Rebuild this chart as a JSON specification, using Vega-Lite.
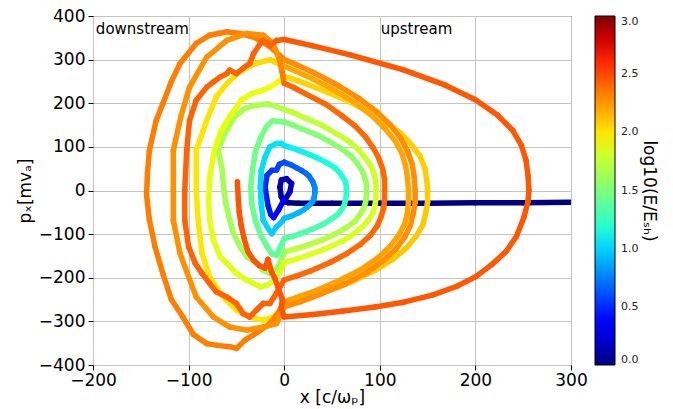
{
"$schema":"https://vega.github.io/schema/vega-lite/v6.json",
"width":478,"height":349,
"autosize":{"type":"none"},
"padding":{"left":93,"top":16,"right":102,"bottom":44},
"config":{"font":"DejaVu Sans","view":{"stroke":"black","strokeWidth":1}},
"datasets":{
"labels":[{"label":"downstream","x":-197,"p":371},{"label":"upstream","x":101,"p":371}],
"traj":[
{"x":300,"p":-27,"e":0},{"x":250,"p":-28,"e":0},{"x":200,"p":-28,"e":0},{"x":150,"p":-29,"e":0},{"x":100,"p":-29,"e":0},{"x":50,"p":-29,"e":0},{"x":15,"p":-29,"e":0},{"x":4,"p":-28,"e":0},{"x":1,"p":-26,"e":0.04},
{"x":-3,"p":-15,"e":0.08},{"x":-4.5,"p":8,"e":0.1},{"x":-3,"p":24,"e":0.12},{"x":2.5,"p":27,"e":0.14},{"x":7.7,"p":16,"e":0.16},{"x":6,"p":-3,"e":0.18},{"x":1.8,"p":-18,"e":0.22},
{"x":-1,"p":-24,"e":0.3},{"x":-6,"p":-45,"e":0.35},{"x":-11,"p":-62,"e":0.4},{"x":-14,"p":-55,"e":0.43},{"x":-17,"p":-34,"e":0.46},{"x":-20,"p":8,"e":0.5},{"x":-18,"p":35,"e":0.53},{"x":-13,"p":46,"e":0.55},{"x":-8,"p":47,"e":0.57},{"x":-5,"p":60,"e":0.58},{"x":0,"p":65,"e":0.6},
{"x":3,"p":62,"e":0.62},{"x":7,"p":59,"e":0.64},{"x":13,"p":52,"e":0.65},{"x":18,"p":46,"e":0.67},{"x":23,"p":39,"e":0.69},{"x":26,"p":33,"e":0.7},{"x":28,"p":26,"e":0.72},{"x":30,"p":20,"e":0.73},{"x":31,"p":13,"e":0.75},{"x":32,"p":7,"e":0.77},{"x":32,"p":0,"e":0.78},{"x":32,"p":-6,"e":0.8},{"x":31.6,"p":-13,"e":0.81},{"x":31,"p":-19,"e":0.83},{"x":29.5,"p":-26,"e":0.84},{"x":27,"p":-32,"e":0.86},{"x":24,"p":-38,"e":0.88},{"x":20,"p":-45,"e":0.9},{"x":15,"p":-51,"e":0.91},{"x":8,"p":-58,"e":0.93},{"x":4,"p":-61,"e":0.94},{"x":0,"p":-64,"e":0.95},
{"x":-4,"p":-75,"e":0.97},{"x":-8,"p":-83,"e":0.98},{"x":-13,"p":-99,"e":0.99},{"x":-18,"p":-83,"e":1.0},{"x":-22,"p":-68,"e":1.0},{"x":-24,"p":-30,"e":1.01},{"x":-25,"p":8,"e":1.02},{"x":-24,"p":46,"e":1.03},{"x":-20,"p":77,"e":1.03},{"x":-15,"p":100,"e":1.04},{"x":-8,"p":108,"e":1.05},{"x":-3,"p":108,"e":1.05},{"x":0,"p":103,"e":1.06},
{"x":6,"p":99,"e":1.08},{"x":14,"p":93,"e":1.09},{"x":27,"p":82,"e":1.1},{"x":37,"p":72,"e":1.12},{"x":46,"p":62,"e":1.13},{"x":53,"p":52,"e":1.14},{"x":58,"p":41,"e":1.16},{"x":61,"p":31,"e":1.17},{"x":64,"p":21,"e":1.19},{"x":65,"p":10,"e":1.2},{"x":65,"p":0,"e":1.21},{"x":65,"p":-11,"e":1.23},{"x":64,"p":-22,"e":1.24},{"x":63,"p":-33,"e":1.26},{"x":60,"p":-44,"e":1.27},{"x":56,"p":-55,"e":1.28},{"x":49,"p":-66,"e":1.3},{"x":41,"p":-77,"e":1.31},{"x":30,"p":-88,"e":1.33},{"x":17,"p":-99,"e":1.34},{"x":9,"p":-105,"e":1.35},{"x":0,"p":-110,"e":1.36},
{"x":-4,"p":-130,"e":1.38},{"x":-8,"p":-148,"e":1.39},{"x":-13,"p":-145,"e":1.4},{"x":-18,"p":-128,"e":1.41},{"x":-24,"p":-105,"e":1.42},{"x":-30,"p":-70,"e":1.43},{"x":-34,"p":-30,"e":1.44},{"x":-35,"p":10,"e":1.45},{"x":-33,"p":50,"e":1.45},{"x":-30,"p":90,"e":1.46},{"x":-24,"p":125,"e":1.47},{"x":-18,"p":148,"e":1.47},{"x":-12,"p":160,"e":1.48},{"x":-5,"p":158,"e":1.49},{"x":0,"p":157,"e":1.5},
{"x":8,"p":151,"e":1.51},{"x":19,"p":141,"e":1.52},{"x":36,"p":126,"e":1.54},{"x":49,"p":110,"e":1.55},{"x":61,"p":94,"e":1.56},{"x":70,"p":79,"e":1.57},{"x":76,"p":63,"e":1.58},{"x":81,"p":47,"e":1.6},{"x":84,"p":31,"e":1.61},{"x":86,"p":16,"e":1.62},{"x":86,"p":0,"e":1.63},{"x":86,"p":-14,"e":1.64},{"x":85,"p":-28,"e":1.65},{"x":83,"p":-42,"e":1.67},{"x":79,"p":-56,"e":1.68},{"x":74,"p":-71,"e":1.69},{"x":65,"p":-85,"e":1.7},{"x":54,"p":-99,"e":1.71},{"x":40,"p":-113,"e":1.72},{"x":22,"p":-127,"e":1.73},{"x":12,"p":-134,"e":1.74},{"x":0,"p":-141,"e":1.6},
{"x":-4,"p":-165,"e":1.6},{"x":-8,"p":-180,"e":1.61},{"x":-15,"p":-190,"e":1.61},{"x":-22,"p":-183,"e":1.62},{"x":-29,"p":-167,"e":1.62},{"x":-39,"p":-152,"e":1.63},{"x":-46,"p":-129,"e":1.63},{"x":-53,"p":-99,"e":1.64},{"x":-57,"p":-68,"e":1.64},{"x":-61,"p":-30,"e":1.65},{"x":-63,"p":0,"e":1.65},{"x":-65,"p":50,"e":1.66},{"x":-69,"p":92,"e":1.66},{"x":-62,"p":131,"e":1.67},{"x":-52,"p":169,"e":1.67},{"x":-41,"p":188,"e":1.68},{"x":-31,"p":195,"e":1.68},{"x":-17,"p":199,"e":1.69},{"x":-8,"p":192,"e":1.7},{"x":0,"p":186,"e":1.75},
{"x":9,"p":179,"e":1.76},{"x":21,"p":167,"e":1.76},{"x":40,"p":149,"e":1.77},{"x":55,"p":130,"e":1.78},{"x":68,"p":112,"e":1.78},{"x":78,"p":93,"e":1.79},{"x":85,"p":74,"e":1.8},{"x":91,"p":56,"e":1.8},{"x":94,"p":37,"e":1.81},{"x":96,"p":19,"e":1.81},{"x":96,"p":0,"e":1.82},{"x":96,"p":-17,"e":1.82},{"x":95,"p":-33,"e":1.83},{"x":93,"p":-50,"e":1.83},{"x":89,"p":-66,"e":1.84},{"x":82,"p":-83,"e":1.84},{"x":73,"p":-99,"e":1.85},{"x":61,"p":-116,"e":1.85},{"x":45,"p":-132,"e":1.86},{"x":24,"p":-149,"e":1.86},{"x":13,"p":-157,"e":1.87},{"x":0,"p":-165,"e":1.85},
{"x":-5,"p":-190,"e":1.85},{"x":-10,"p":-205,"e":1.85},{"x":-18,"p":-217,"e":1.86},{"x":-25,"p":-221,"e":1.86},{"x":-32,"p":-213,"e":1.86},{"x":-39,"p":-206,"e":1.87},{"x":-50,"p":-190,"e":1.87},{"x":-60,"p":-167,"e":1.87},{"x":-67,"p":-152,"e":1.88},{"x":-74,"p":-114,"e":1.88},{"x":-78,"p":-68,"e":1.88},{"x":-79,"p":-20,"e":1.89},{"x":-78,"p":30,"e":1.89},{"x":-73,"p":92,"e":1.89},{"x":-66,"p":138,"e":1.9},{"x":-55,"p":176,"e":1.9},{"x":-45,"p":207,"e":1.9},{"x":-34,"p":222,"e":1.91},{"x":-22,"p":230,"e":1.91},{"x":-14,"p":238,"e":1.92},{"x":-6,"p":250,"e":1.95},{"x":0,"p":262,"e":2.05},
{"x":14,"p":252,"e":2.06},{"x":33,"p":236,"e":2.06},{"x":62,"p":210,"e":2.06},{"x":86,"p":183,"e":2.07},{"x":106,"p":157,"e":2.07},{"x":122,"p":131,"e":2.07},{"x":133,"p":105,"e":2.08},{"x":142,"p":79,"e":2.08},{"x":147,"p":52,"e":2.08},{"x":149,"p":26,"e":2.08},{"x":150,"p":0,"e":2.08},{"x":150,"p":-26,"e":2.09},{"x":148,"p":-52,"e":2.09},{"x":145,"p":-79,"e":2.09},{"x":138,"p":-105,"e":2.09},{"x":128,"p":-131,"e":2.1},{"x":114,"p":-157,"e":2.1},{"x":95,"p":-183,"e":2.1},{"x":70,"p":-210,"e":2.1},{"x":38,"p":-236,"e":2.1},{"x":20,"p":-249,"e":2.1},{"x":0,"p":-262,"e":2.0},
{"x":-11,"p":-290,"e":2.0},{"x":-22,"p":-297,"e":2.0},{"x":-36,"p":-290,"e":2.0},{"x":-50,"p":-274,"e":2.0},{"x":-64,"p":-244,"e":2.0},{"x":-78,"p":-198,"e":2.0},{"x":-86,"p":-144,"e":2.0},{"x":-90,"p":-68,"e":2.0},{"x":-92,"p":0,"e":2.0},{"x":-92,"p":92,"e":2.0},{"x":-81,"p":161,"e":2.01},{"x":-71,"p":215,"e":2.01},{"x":-60,"p":245,"e":2.02},{"x":-48,"p":270,"e":2.02},{"x":-32,"p":290,"e":2.03},{"x":-15,"p":300,"e":2.05},{"x":0,"p":285,"e":2.2},
{"x":12,"p":274,"e":2.2},{"x":29,"p":257,"e":2.2},{"x":54,"p":228,"e":2.2},{"x":75,"p":200,"e":2.2},{"x":92,"p":171,"e":2.2},{"x":105,"p":143,"e":2.2},{"x":116,"p":114,"e":2.2},{"x":123,"p":86,"e":2.21},{"x":127,"p":57,"e":2.21},{"x":129,"p":29,"e":2.21},{"x":130,"p":0,"e":2.21},{"x":130,"p":-26,"e":2.21},{"x":129,"p":-51,"e":2.21},{"x":126,"p":-77,"e":2.21},{"x":120,"p":-102,"e":2.21},{"x":111,"p":-128,"e":2.22},{"x":99,"p":-153,"e":2.22},{"x":82,"p":-179,"e":2.22},{"x":60,"p":-204,"e":2.22},{"x":33,"p":-230,"e":2.22},{"x":17,"p":-242,"e":2.22},{"x":0,"p":-255,"e":2.33},
{"x":-6,"p":-280,"e":2.33},{"x":-15,"p":-305,"e":2.33},{"x":-28,"p":-325,"e":2.33},{"x":-41,"p":-343,"e":2.33},{"x":-50,"p":-362,"e":2.33},{"x":-57,"p":-358,"e":2.33},{"x":-70,"p":-355,"e":2.33},{"x":-81,"p":-351,"e":2.33},{"x":-95,"p":-330,"e":2.33},{"x":-106,"p":-290,"e":2.33},{"x":-118,"p":-250,"e":2.33},{"x":-127,"p":-190,"e":2.33},{"x":-135,"p":-130,"e":2.33},{"x":-141,"p":-68,"e":2.33},{"x":-144,"p":-10,"e":2.33},{"x":-143,"p":40,"e":2.33},{"x":-141,"p":92,"e":2.33},{"x":-134,"p":160,"e":2.33},{"x":-127,"p":199,"e":2.33},{"x":-118,"p":250,"e":2.33},{"x":-109,"p":291,"e":2.33},{"x":-92,"p":337,"e":2.33},{"x":-78,"p":356,"e":2.33},{"x":-60,"p":364,"e":2.33},{"x":-46,"p":360,"e":2.33},{"x":-30,"p":350,"e":2.33},{"x":-15,"p":330,"e":2.33},{"x":-5,"p":310,"e":2.33},{"x":0,"p":300,"e":2.28},
{"x":13,"p":288,"e":2.28},{"x":31,"p":270,"e":2.28},{"x":57,"p":240,"e":2.28},{"x":79,"p":210,"e":2.28},{"x":97,"p":180,"e":2.28},{"x":111,"p":150,"e":2.28},{"x":122,"p":120,"e":2.28},{"x":129,"p":90,"e":2.28},{"x":134,"p":60,"e":2.28},{"x":136,"p":30,"e":2.28},{"x":137,"p":0,"e":2.28},{"x":137,"p":-27,"e":2.28},{"x":135,"p":-53,"e":2.28},{"x":132,"p":-80,"e":2.28},{"x":126,"p":-107,"e":2.28},{"x":117,"p":-134,"e":2.28},{"x":104,"p":-160,"e":2.28},{"x":87,"p":-187,"e":2.28},{"x":64,"p":-214,"e":2.28},{"x":35,"p":-240,"e":2.28},{"x":18,"p":-254,"e":2.28},{"x":0,"p":-267,"e":2.27},
{"x":-8,"p":-305,"e":2.27},{"x":-22,"p":-313,"e":2.27},{"x":-39,"p":-320,"e":2.27},{"x":-57,"p":-313,"e":2.27},{"x":-74,"p":-290,"e":2.27},{"x":-92,"p":-244,"e":2.27},{"x":-100,"p":-198,"e":2.27},{"x":-109,"p":-144,"e":2.27},{"x":-116,"p":-68,"e":2.27},{"x":-116,"p":0,"e":2.27},{"x":-116,"p":92,"e":2.27},{"x":-108,"p":170,"e":2.27},{"x":-99,"p":237,"e":2.27},{"x":-81,"p":306,"e":2.27},{"x":-60,"p":344,"e":2.27},{"x":-39,"p":360,"e":2.27},{"x":-22,"p":356,"e":2.27},{"x":-12,"p":338,"e":2.27},{"x":-5,"p":300,"e":2.3},{"x":-2,"p":270,"e":2.35},{"x":0,"p":246,"e":2.4},
{"x":10,"p":236,"e":2.4},{"x":23,"p":221,"e":2.4},{"x":44,"p":197,"e":2.4},{"x":60,"p":172,"e":2.4},{"x":74,"p":148,"e":2.4},{"x":85,"p":123,"e":2.4},{"x":93,"p":98,"e":2.4},{"x":99,"p":74,"e":2.4},{"x":103,"p":49,"e":2.4},{"x":105,"p":25,"e":2.4},{"x":105,"p":0,"e":2.4},{"x":105,"p":-21,"e":2.4},{"x":104,"p":-41,"e":2.4},{"x":101,"p":-62,"e":2.4},{"x":97,"p":-82,"e":2.4},{"x":90,"p":-103,"e":2.4},{"x":80,"p":-123,"e":2.4},{"x":66,"p":-144,"e":2.4},{"x":49,"p":-164,"e":2.4},{"x":27,"p":-185,"e":2.4},{"x":14,"p":-195,"e":2.4},{"x":0,"p":-205,"e":2.42},
{"x":-8,"p":-235,"e":2.42},{"x":-15,"p":-259,"e":2.42},{"x":-22,"p":-259,"e":2.42},{"x":-29,"p":-274,"e":2.42},{"x":-36,"p":-290,"e":2.42},{"x":-43,"p":-282,"e":2.42},{"x":-50,"p":-259,"e":2.42},{"x":-60,"p":-244,"e":2.42},{"x":-71,"p":-232,"e":2.42},{"x":-78,"p":-213,"e":2.42},{"x":-86,"p":-190,"e":2.42},{"x":-93,"p":-167,"e":2.42},{"x":-100,"p":-129,"e":2.42},{"x":-104,"p":-68,"e":2.42},{"x":-104,"p":0,"e":2.42},{"x":-102,"p":92,"e":2.42},{"x":-99,"p":161,"e":2.42},{"x":-92,"p":207,"e":2.42},{"x":-81,"p":237,"e":2.42},{"x":-74,"p":249,"e":2.42},{"x":-67,"p":260,"e":2.42},{"x":-60,"p":268,"e":2.42},{"x":-57,"p":276,"e":2.42},{"x":-50,"p":268,"e":2.42},{"x":-43,"p":280,"e":2.42},{"x":-36,"p":291,"e":2.42},{"x":-32,"p":314,"e":2.42},{"x":-25,"p":337,"e":2.42},{"x":-22,"p":344,"e":2.42},{"x":-15,"p":333,"e":2.42},{"x":-8,"p":344,"e":2.43},{"x":0,"p":346,"e":2.45},
{"x":29,"p":332,"e":2.45},{"x":69,"p":311,"e":2.45},{"x":124,"p":277,"e":2.45},{"x":168,"p":242,"e":2.45},{"x":200,"p":208,"e":2.45},{"x":223,"p":173,"e":2.45},{"x":239,"p":138,"e":2.45},{"x":248,"p":104,"e":2.45},{"x":253,"p":69,"e":2.45},{"x":255,"p":35,"e":2.45},{"x":256,"p":0,"e":2.45},{"x":255,"p":-25,"e":2.45},{"x":251,"p":-60,"e":2.45},{"x":243,"p":-105,"e":2.45},{"x":232,"p":-140,"e":2.45},{"x":217,"p":-170,"e":2.45},{"x":200,"p":-198,"e":2.45},{"x":180,"p":-220,"e":2.45},{"x":155,"p":-240,"e":2.45},{"x":125,"p":-256,"e":2.45},{"x":95,"p":-267,"e":2.45},{"x":60,"p":-277,"e":2.45},{"x":30,"p":-284,"e":2.45},{"x":0,"p":-290,"e":2.46},
{"x":-3,"p":-270,"e":2.46},{"x":-2,"p":-250,"e":2.46},{"x":-6,"p":-225,"e":2.46},{"x":-10,"p":-200,"e":2.46},{"x":-13,"p":-188,"e":2.46},{"x":-17,"p":-158,"e":2.46},{"x":-20,"p":-178,"e":2.46},{"x":-26,"p":-172,"e":2.46},{"x":-32,"p":-160,"e":2.46},{"x":-38,"p":-140,"e":2.46},{"x":-42,"p":-110,"e":2.46},{"x":-45,"p":-80,"e":2.46},{"x":-47,"p":-50,"e":2.46},{"x":-48,"p":-20,"e":2.46},{"x":-49,"p":20,"e":2.46}
]},
"layer":[
{"data":{"name":"traj"},
 "transform":[{"window":[{"op":"lead","field":"x","as":"x2"},{"op":"lead","field":"p","as":"p2"}]},{"filter":"datum.x2 != null"}],
 "mark":{"type":"rule","strokeWidth":5.5,"strokeCap":"round","clip":true},
 "encoding":{
  "x":{"field":"x","type":"quantitative","scale":{"domain":[-200,300],"nice":false,"zero":false},
   "axis":{"values":[-200,-100,0,100,200,300],"title":"x [c/ωₚ]","labelFontSize":17,"titleFontSize":17,"titleFontWeight":"normal","labelColor":"black","titleColor":"black","tickColor":"black","tickSize":5,"labelPadding":2,"titlePadding":1,"domain":false,"grid":true,"gridColor":"#c4c4c4","labelFlush":false}},
  "y":{"field":"p","type":"quantitative","scale":{"domain":[-400,400],"nice":false},
   "axis":{"values":[-400,-300,-200,-100,0,100,200,300,400],"title":"pₓ[mvₐ]","labelFontSize":17,"titleFontSize":17,"titleFontWeight":"normal","labelColor":"black","titleColor":"black","tickColor":"black","tickSize":5,"labelPadding":3,"titlePadding":4,"domain":false,"grid":true,"gridColor":"#c4c4c4","labelFlush":false}},
  "x2":{"field":"x2"},"y2":{"field":"p2"},
  "color":{"field":"e","type":"quantitative",
   "scale":{"domain":[0,0.33,0.375,1.02,1.05,1.125,1.92,1.95,1.98,2.67,2.73,3],"range":["#000080","#0000ff","#0000ff","#00dbff","#00e6f7","#15ffe2","#eeff08","#f7f500","#ffec00","#ff1300","#e80000","#800000"],"interpolate":"rgb"},
   "legend":{"orient":"right","offset":24,"gradientLength":349,"gradientThickness":20,"values":[0,0.5,1,1.5,2,2.5,3],"format":".1f","labelFontSize":11,"labelColor":"#222","labelOffset":6,"gradientStrokeColor":"black","gradientStrokeWidth":1,"title":"log10(E/Eₛₕ)","titleOrient":"right","titleAngle":90,"titleAnchor":"middle","titleFontSize":17,"titleFontWeight":"normal","titleColor":"black","titlePadding":2}}
 }},
{"mark":{"type":"rule","strokeDash":[5,4],"color":"black","strokeWidth":1.5},"encoding":{"x":{"datum":0}}},
{"data":{"name":"labels"},"mark":{"type":"text","align":"left","baseline":"middle","fontSize":15,"color":"black"},
 "encoding":{"x":{"field":"x","type":"quantitative"},"y":{"field":"p","type":"quantitative"},"text":{"field":"label"}}}
]
}
